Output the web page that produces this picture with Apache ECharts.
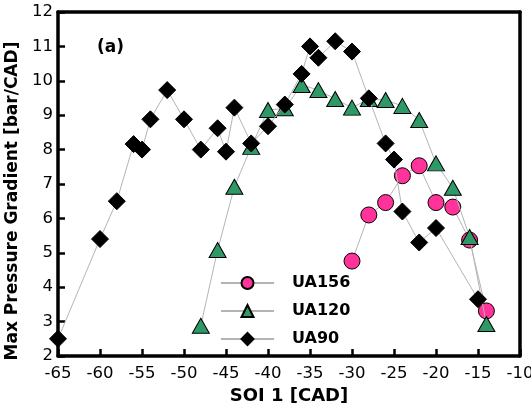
<!DOCTYPE html>
<html><head><meta charset="utf-8">
<script src="https://cdn.jsdelivr.net/npm/echarts@6/dist/echarts.min.js"></script>
<style>html,body{margin:0;padding:0;background:#fff}#c{width:531px;height:410px}</style>
</head><body><div id="c"></div>
<script>
var ua156X = [-30,-28,-26,-24,-22,-20,-18,-16,-14];
var ua156Y = [4.76,6.1,6.46,7.24,7.53,6.46,6.33,5.37,3.31];
var ua120X = [-48,-46,-44,-42,-40,-38,-36,-34,-32,-30,-28,-26,-24,-22,-20,-18,-16,-14];
var ua120Y = [2.88,5.08,6.92,8.08,9.15,9.2,9.88,9.73,9.47,9.22,9.47,9.44,9.27,8.86,7.6,6.89,5.46,2.93];
var ua90X = [-65,-60,-58,-56,-55,-54,-52,-50,-48,-46,-45,-44,-42,-40,-38,-36,-35,-34,-32,-30,-28,-26,-25,-24,-22,-20,-15];
var ua90Y = [2.5,5.4,6.5,8.16,8.0,8.88,9.73,8.88,8.0,8.62,7.94,9.22,8.18,8.68,9.31,10.2,11.0,10.67,11.15,10.85,9.49,8.18,7.71,6.2,5.3,5.72,3.65];
var seriesNames = ['UA156','UA120','UA90'];
var xTitle = 'SOI 1 [CAD]';
var yTitle = 'Max Pressure Gradient [bar/CAD]';
var panelLabel = '(a)';

function pairs(xs, ys){ return xs.map(function(x,i){ return [x, ys[i]]; }); }

var chart = echarts.init(document.getElementById('c'), null, {renderer:'canvas'});
var font = 'DejaVu Sans, Liberation Sans, sans-serif';
var lineStyle = {color:'#b4b4b4', width:1};
var frameLine = {lineStyle:{color:'#000', width:3.5}};
chart.setOption({
  animation:false,
  backgroundColor:'#fff',
  grid:{left:58, right:11, top:12, bottom:54, outerBoundsMode:'none', containLabel:false},
  xAxis:[{type:'value', min:-65, max:-10, interval:5,
    name:xTitle, nameLocation:'middle', nameGap:30,
    nameTextStyle:{fontFamily:font, fontWeight:'bold', fontSize:18, color:'#000'},
    axisLine:{onZero:false, lineStyle:{color:'#000', width:3.5}},
    axisTick:{inside:true, length:7, lineStyle:{color:'#000', width:2.5}},
    axisLabel:{margin:9, fontFamily:font, fontSize:16.5, color:'#000'},
    splitLine:{show:false}},
    {type:'value', position:'top', min:-65, max:-10, interval:5,
    axisLine:frameLine, axisTick:{show:false}, axisLabel:{show:false}, splitLine:{show:false}}],
  yAxis:[{type:'value', min:2, max:12, interval:1,
    name:yTitle, nameLocation:'middle', nameGap:34, nameRotate:90,
    nameTextStyle:{fontFamily:font, fontWeight:'bold', fontSize:17, color:'#000', padding:[0,34,0,0]},
    axisLine:{onZero:false, lineStyle:{color:'#000', width:3.5}},
    axisTick:{inside:true, length:7, lineStyle:{color:'#000', width:2.5}},
    axisLabel:{margin:5, fontFamily:font, fontSize:16.5, color:'#000'},
    splitLine:{show:false}},
    {type:'value', position:'right', min:2, max:12, interval:1,
    axisLine:frameLine, axisTick:{show:false}, axisLabel:{show:false}, splitLine:{show:false}}],
  legend:{orient:'vertical', left:220, top:275, padding:0, itemWidth:53, itemHeight:15, itemGap:12,
    data:seriesNames,
    textStyle:{fontFamily:font, fontWeight:'bold', fontSize:16, color:'#000', padding:[0,0,0,13]}},
  graphic:[{type:'text', left:97, top:39, style:{text:panelLabel, font:'bold 17px DejaVu Sans, Liberation Sans, sans-serif', fill:'#000'}}],
  series:[
    {name:seriesNames[0], type:'line', data:pairs(ua156X, ua156Y), symbol:'circle', symbolSize:16,
      lineStyle:lineStyle, itemStyle:{color:'#FF3399', borderColor:'#000', borderWidth:1}, z:2},
    {name:seriesNames[1], type:'line', data:pairs(ua120X, ua120Y), symbol:'triangle', symbolSize:[17,15],
      lineStyle:lineStyle, itemStyle:{color:'#2E9966', borderColor:'#000', borderWidth:1}, z:3},
    {name:seriesNames[2], type:'line', data:pairs(ua90X, ua90Y), symbol:'diamond', symbolSize:17,
      lineStyle:lineStyle, itemStyle:{color:'#000', borderColor:'#000', borderWidth:1}, z:4}
  ]
});
</script></body></html>
